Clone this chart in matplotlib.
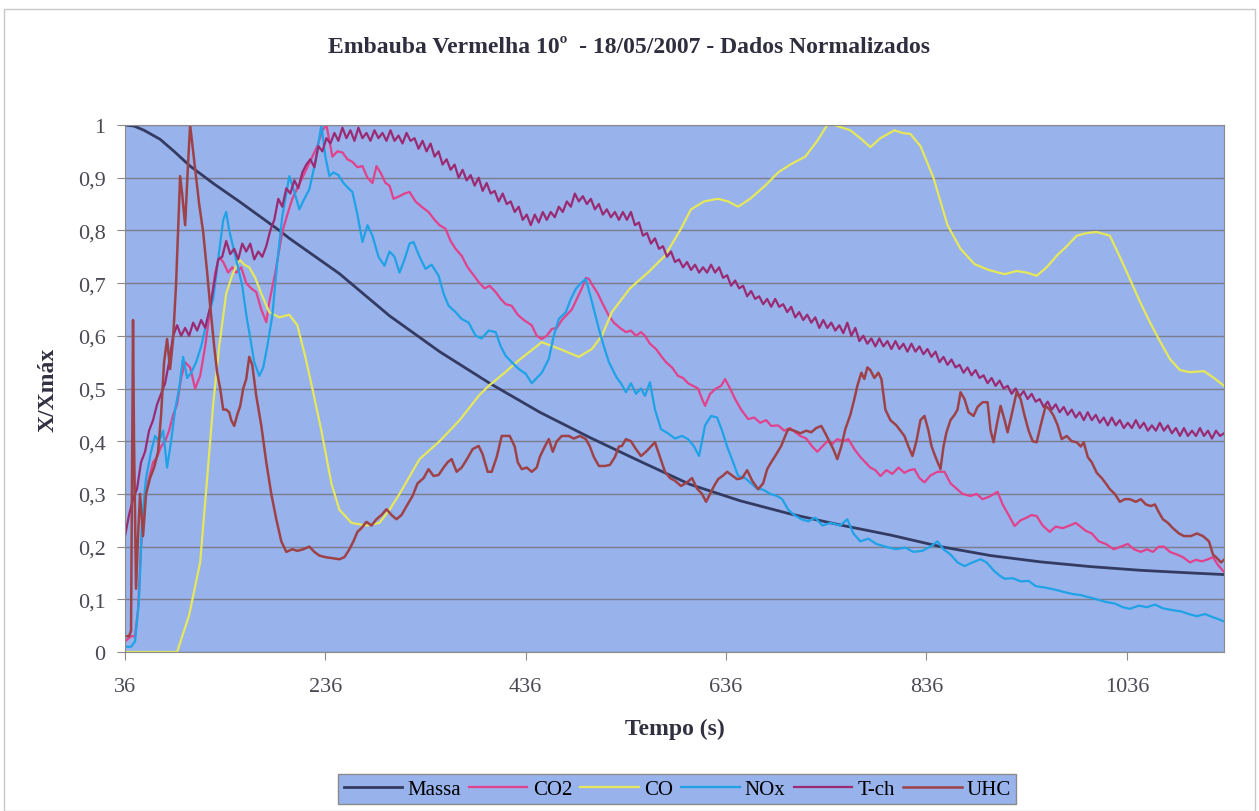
import matplotlib.pyplot as plt
from matplotlib.patches import Rectangle

# Series as (time s, normalised value) pairs
massa = [(36, 1.0), (45, 0.998), (55, 0.99), (71, 0.973), (85, 0.95), (101, 0.922), (125, 0.888),
         (150, 0.855), (190, 0.80), (200, 0.785), (250, 0.718), (300, 0.638), (350, 0.57),
         (400, 0.51), (450, 0.455), (500, 0.407), (550, 0.362), (600, 0.318), (650, 0.287),
         (700, 0.262), (750, 0.241), (800, 0.222), (850, 0.20), (900, 0.183), (950, 0.171),
         (1000, 0.162), (1050, 0.155), (1100, 0.15), (1133, 0.147)]

co2 = [(36, 0.02), (42, 0.03), (46, 0.03), (49, 0.08), (52, 0.20), (56, 0.30), (60, 0.33),
       (64, 0.36), (68, 0.37), (72, 0.39), (76, 0.40), (80, 0.42), (84, 0.45), (88, 0.47),
       (92, 0.52), (96, 0.55), (101, 0.54), (106, 0.50), (111, 0.524), (116, 0.58), (121, 0.65),
       (126, 0.72), (130, 0.75), (134, 0.74), (139, 0.72), (143, 0.73), (147, 0.72), (152, 0.73),
       (157, 0.70), (162, 0.69), (167, 0.683), (172, 0.65), (177, 0.626), (180, 0.664), (186, 0.72),
       (193, 0.797), (198, 0.83), (203, 0.86), (208, 0.88), (213, 0.90), (218, 0.92), (223, 0.94),
       (228, 0.96), (233, 0.99), (237, 1.0), (240, 0.97), (243, 0.94), (248, 0.95), (253, 0.948),
       (258, 0.935), (263, 0.93), (268, 0.92), (273, 0.922), (278, 0.90), (283, 0.89), (287, 0.922),
       (291, 0.91), (296, 0.89), (300, 0.885), (304, 0.86), (310, 0.865), (315, 0.87), (320, 0.873),
       (326, 0.855), (332, 0.845), (339, 0.835), (345, 0.82), (350, 0.81), (356, 0.803), (361, 0.78),
       (366, 0.765), (372, 0.752), (378, 0.73), (384, 0.715), (389, 0.702), (395, 0.69), (400, 0.695),
       (406, 0.683), (411, 0.67), (416, 0.66), (422, 0.657), (428, 0.64), (434, 0.63), (442, 0.62),
       (447, 0.60), (452, 0.594), (457, 0.60), (462, 0.613), (467, 0.615), (472, 0.63), (477, 0.64),
       (482, 0.65), (487, 0.67), (492, 0.69), (496, 0.71), (499, 0.708), (503, 0.695), (508, 0.68),
       (513, 0.66), (519, 0.638), (524, 0.625), (530, 0.615), (536, 0.607), (541, 0.61), (546, 0.60),
       (551, 0.607), (555, 0.60), (560, 0.585), (566, 0.575), (571, 0.562), (576, 0.55), (582, 0.54),
       (588, 0.524), (593, 0.52), (598, 0.51), (603, 0.505), (608, 0.50), (612, 0.48), (615, 0.467),
       (620, 0.49), (626, 0.50), (631, 0.505), (635, 0.518), (640, 0.50), (645, 0.48), (651, 0.46),
       (658, 0.442), (664, 0.445), (670, 0.435), (676, 0.44), (681, 0.429), (688, 0.43), (694, 0.42),
       (700, 0.425), (705, 0.417), (710, 0.41), (716, 0.405), (722, 0.39), (727, 0.38), (732, 0.39),
       (737, 0.40), (742, 0.395), (747, 0.404), (753, 0.40), (758, 0.404), (764, 0.385), (770, 0.37),
       (775, 0.36), (780, 0.35), (785, 0.345), (790, 0.334), (796, 0.345), (802, 0.338), (808, 0.35),
       (814, 0.34), (819, 0.345), (824, 0.347), (829, 0.33), (834, 0.322), (840, 0.335), (847, 0.342),
       (854, 0.342), (860, 0.32), (866, 0.31), (872, 0.30), (880, 0.296), (886, 0.30), (892, 0.29),
       (899, 0.295), (907, 0.304), (912, 0.28), (918, 0.26), (924, 0.239), (930, 0.25), (936, 0.255),
       (941, 0.26), (946, 0.258), (952, 0.24), (959, 0.228), (965, 0.238), (972, 0.235), (979, 0.24),
       (985, 0.245), (989, 0.239), (995, 0.23), (1001, 0.225), (1008, 0.21), (1015, 0.205),
       (1023, 0.195), (1030, 0.2), (1037, 0.205), (1043, 0.195), (1050, 0.19), (1056, 0.195),
       (1062, 0.19), (1068, 0.2), (1073, 0.20), (1079, 0.19), (1086, 0.185), (1092, 0.18),
       (1099, 0.17), (1105, 0.175), (1111, 0.172), (1117, 0.176), (1122, 0.18), (1127, 0.165),
       (1133, 0.152)]

co = [(36, 0.0), (60, 0.0), (88, 0.0), (100, 0.07), (111, 0.17), (118, 0.33), (124, 0.47),
      (130, 0.58), (137, 0.68), (143, 0.715), (150, 0.745), (155, 0.735), (160, 0.73), (166, 0.71),
      (172, 0.68), (180, 0.645), (190, 0.635), (200, 0.64), (208, 0.62), (216, 0.56), (223, 0.50),
      (232, 0.42), (242, 0.32), (250, 0.27), (262, 0.245), (277, 0.24), (290, 0.245), (300, 0.27),
      (310, 0.30), (330, 0.366), (350, 0.40), (370, 0.44), (389, 0.486), (399, 0.505), (415, 0.53),
      (430, 0.555), (452, 0.588), (470, 0.575), (489, 0.56), (502, 0.575), (512, 0.60), (522, 0.645),
      (540, 0.69), (558, 0.72), (575, 0.752), (590, 0.80), (601, 0.84), (614, 0.855), (628, 0.86),
      (638, 0.855), (648, 0.845), (660, 0.86), (675, 0.885), (688, 0.91), (700, 0.925), (715, 0.94),
      (727, 0.97), (737, 1.0), (744, 1.0), (752, 0.995), (760, 0.99), (770, 0.975), (780, 0.958),
      (790, 0.975), (804, 0.99), (812, 0.985), (820, 0.983), (830, 0.96), (843, 0.90), (857, 0.81),
      (870, 0.765), (884, 0.736), (898, 0.725), (914, 0.717), (926, 0.723), (936, 0.72),
      (946, 0.714), (956, 0.73), (966, 0.752), (976, 0.77), (986, 0.79), (996, 0.795), (1006, 0.797),
      (1019, 0.79), (1029, 0.75), (1039, 0.708), (1049, 0.665), (1059, 0.626), (1069, 0.59),
      (1079, 0.556), (1089, 0.535), (1099, 0.531), (1113, 0.533), (1123, 0.52), (1133, 0.505)]

nox = [(36, 0.01), (42, 0.01), (46, 0.02), (50, 0.10), (53, 0.25), (57, 0.33), (62, 0.38),
       (66, 0.41), (70, 0.40), (74, 0.42), (78, 0.35), (82, 0.40), (86, 0.46), (90, 0.50), (94, 0.56),
       (98, 0.52), (102, 0.53), (107, 0.55), (112, 0.58), (118, 0.63), (124, 0.67), (130, 0.76),
       (134, 0.82), (137, 0.835), (140, 0.80), (145, 0.76), (150, 0.72), (153, 0.695), (157, 0.64),
       (160, 0.607), (165, 0.55), (170, 0.524), (174, 0.54), (178, 0.58), (183, 0.638), (188, 0.74),
       (193, 0.827), (197, 0.87), (200, 0.903), (204, 0.88), (210, 0.84), (215, 0.86), (220, 0.878),
       (226, 0.93), (232, 1.0), (236, 0.94), (240, 0.903), (244, 0.91), (249, 0.905), (254, 0.89),
       (259, 0.88), (263, 0.873), (268, 0.83), (273, 0.778), (278, 0.81), (283, 0.79), (289, 0.75),
       (295, 0.733), (300, 0.76), (305, 0.75), (310, 0.72), (315, 0.745), (320, 0.775), (324, 0.778),
       (330, 0.75), (336, 0.727), (342, 0.735), (349, 0.714), (354, 0.68), (359, 0.657), (366, 0.645),
       (372, 0.632), (379, 0.625), (386, 0.60), (392, 0.595), (399, 0.61), (406, 0.607), (411, 0.58),
       (416, 0.562), (422, 0.55), (429, 0.537), (436, 0.528), (442, 0.51), (446, 0.518), (452, 0.53),
       (459, 0.556), (464, 0.60), (469, 0.632), (476, 0.645), (481, 0.67), (486, 0.689), (491, 0.70),
       (496, 0.708), (502, 0.665), (509, 0.613), (514, 0.58), (519, 0.55), (527, 0.52), (531, 0.51),
       (536, 0.493), (541, 0.51), (546, 0.49), (551, 0.50), (555, 0.486), (560, 0.512), (565, 0.46),
       (571, 0.423), (578, 0.415), (585, 0.405), (592, 0.41), (598, 0.404), (604, 0.39), (609, 0.372),
       (615, 0.43), (621, 0.448), (627, 0.445), (632, 0.42), (637, 0.39), (643, 0.36), (648, 0.334),
       (655, 0.33), (661, 0.32), (667, 0.31), (673, 0.308), (680, 0.30), (687, 0.296), (692, 0.29),
       (698, 0.27), (704, 0.26), (711, 0.252), (718, 0.248), (725, 0.255), (732, 0.24), (740, 0.245),
       (750, 0.24), (757, 0.252), (763, 0.225), (770, 0.21), (778, 0.215), (786, 0.205), (795, 0.20),
       (805, 0.195), (815, 0.198), (823, 0.19), (832, 0.192), (840, 0.2), (847, 0.21), (853, 0.195),
       (860, 0.185), (867, 0.17), (874, 0.163), (882, 0.17), (890, 0.176), (896, 0.17), (903, 0.155),
       (909, 0.145), (914, 0.139), (922, 0.14), (930, 0.134), (938, 0.135), (945, 0.125),
       (955, 0.122), (965, 0.118), (973, 0.114), (982, 0.11), (990, 0.108), (998, 0.104),
       (1006, 0.10), (1015, 0.095), (1024, 0.092), (1032, 0.085), (1039, 0.082), (1048, 0.088),
       (1056, 0.085), (1064, 0.09), (1072, 0.083), (1080, 0.08), (1090, 0.077), (1098, 0.072),
       (1106, 0.068), (1114, 0.072), (1122, 0.066), (1128, 0.062), (1133, 0.058)]

tch = [(36, 0.22), (40, 0.26), (44, 0.29), (48, 0.31), (52, 0.36), (56, 0.38), (60, 0.42),
       (64, 0.44), (68, 0.47), (72, 0.49), (76, 0.51), (80, 0.55), (84, 0.60), (88, 0.62), (92, 0.60),
       (96, 0.615), (100, 0.60), (104, 0.625), (108, 0.61), (112, 0.63), (116, 0.615), (121, 0.655),
       (125, 0.70), (129, 0.745), (133, 0.75), (137, 0.78), (141, 0.755), (145, 0.765), (149, 0.745),
       (153, 0.775), (157, 0.76), (161, 0.775), (165, 0.745), (169, 0.76), (173, 0.75), (177, 0.77),
       (181, 0.80), (185, 0.82), (189, 0.86), (193, 0.845), (197, 0.88), (201, 0.87), (205, 0.895),
       (209, 0.88), (213, 0.91), (217, 0.925), (221, 0.935), (225, 0.92), (229, 0.96), (233, 0.95),
       (237, 0.975), (241, 0.965), (245, 0.985), (249, 0.97), (253, 0.995), (257, 0.975), (261, 0.99),
       (265, 0.97), (269, 0.995), (273, 0.975), (277, 0.985), (281, 0.97), (285, 0.99), (289, 0.975),
       (293, 0.985), (297, 0.97), (301, 0.99), (305, 0.97), (309, 0.98), (313, 0.965), (317, 0.985),
       (321, 0.97), (325, 0.975), (329, 0.955), (333, 0.97), (337, 0.95), (341, 0.965), (345, 0.94),
       (349, 0.95), (353, 0.925), (357, 0.935), (361, 0.915), (365, 0.925), (369, 0.9), (373, 0.915),
       (377, 0.895), (381, 0.905), (385, 0.885), (389, 0.9), (393, 0.875), (397, 0.89), (401, 0.87),
       (405, 0.875), (409, 0.855), (413, 0.87), (417, 0.85), (421, 0.855), (425, 0.835), (429, 0.845),
       (433, 0.82), (437, 0.83), (441, 0.81), (445, 0.83), (449, 0.815), (453, 0.835), (457, 0.82),
       (461, 0.835), (465, 0.825), (469, 0.845), (473, 0.835), (477, 0.855), (481, 0.845), (485, 0.87),
       (489, 0.855), (493, 0.865), (497, 0.85), (501, 0.86), (505, 0.84), (509, 0.85), (513, 0.83),
       (517, 0.84), (521, 0.825), (525, 0.835), (529, 0.82), (533, 0.835), (537, 0.82), (541, 0.835),
       (545, 0.81), (549, 0.815), (553, 0.79), (557, 0.795), (561, 0.775), (565, 0.785), (569, 0.765),
       (573, 0.77), (577, 0.75), (581, 0.76), (585, 0.74), (589, 0.745), (593, 0.73), (597, 0.74),
       (601, 0.725), (605, 0.735), (609, 0.72), (613, 0.73), (617, 0.72), (621, 0.735), (625, 0.72),
       (629, 0.73), (633, 0.71), (637, 0.715), (641, 0.695), (645, 0.705), (649, 0.69), (653, 0.695),
       (657, 0.675), (661, 0.685), (665, 0.67), (669, 0.675), (673, 0.66), (677, 0.67), (681, 0.655),
       (685, 0.67), (689, 0.655), (693, 0.66), (697, 0.645), (701, 0.655), (705, 0.635), (709, 0.645),
       (713, 0.63), (717, 0.64), (721, 0.625), (725, 0.635), (729, 0.615), (733, 0.63), (737, 0.615),
       (741, 0.625), (745, 0.61), (749, 0.62), (753, 0.605), (757, 0.625), (761, 0.60), (765, 0.615),
       (769, 0.59), (773, 0.6), (777, 0.585), (781, 0.595), (785, 0.58), (789, 0.595), (793, 0.58),
       (797, 0.59), (801, 0.575), (805, 0.59), (809, 0.575), (813, 0.585), (817, 0.57), (821, 0.585),
       (825, 0.57), (829, 0.58), (833, 0.565), (837, 0.575), (841, 0.56), (845, 0.57), (849, 0.55),
       (853, 0.56), (857, 0.545), (861, 0.555), (865, 0.54), (869, 0.545), (873, 0.53), (877, 0.54),
       (881, 0.525), (885, 0.535), (889, 0.52), (893, 0.525), (897, 0.51), (901, 0.52), (905, 0.505),
       (909, 0.515), (913, 0.5), (917, 0.505), (921, 0.49), (925, 0.5), (929, 0.485), (933, 0.495),
       (937, 0.48), (941, 0.49), (945, 0.475), (949, 0.48), (953, 0.465), (957, 0.475), (961, 0.46),
       (965, 0.47), (969, 0.455), (973, 0.465), (977, 0.45), (981, 0.46), (985, 0.445), (989, 0.455),
       (993, 0.44), (997, 0.455), (1001, 0.44), (1005, 0.45), (1009, 0.435), (1013, 0.445),
       (1017, 0.43), (1021, 0.445), (1025, 0.43), (1029, 0.44), (1033, 0.425), (1037, 0.435),
       (1041, 0.425), (1045, 0.44), (1049, 0.425), (1053, 0.435), (1057, 0.42), (1061, 0.43),
       (1065, 0.42), (1069, 0.435), (1073, 0.42), (1077, 0.43), (1081, 0.415), (1085, 0.425),
       (1089, 0.41), (1093, 0.425), (1097, 0.41), (1101, 0.42), (1105, 0.41), (1109, 0.425),
       (1113, 0.41), (1117, 0.42), (1121, 0.405), (1125, 0.42), (1129, 0.41), (1133, 0.415)]

uhc = [(36, 0.03), (40, 0.03), (42, 0.04), (43, 0.35), (44, 0.63), (45, 0.40), (47, 0.12),
       (49, 0.22), (51, 0.30), (54, 0.22), (57, 0.30), (61, 0.33), (65, 0.35), (69, 0.38), (72, 0.45),
       (75, 0.55), (78, 0.594), (81, 0.537), (84, 0.594), (87, 0.70), (91, 0.903), (93, 0.87),
       (96, 0.81), (99, 0.93), (101, 1.0), (104, 0.95), (107, 0.90), (110, 0.85), (114, 0.797),
       (118, 0.72), (121, 0.657), (125, 0.58), (128, 0.53), (131, 0.50), (134, 0.46), (137, 0.46),
       (140, 0.455), (142, 0.44), (145, 0.429), (148, 0.45), (151, 0.467), (154, 0.50), (157, 0.518),
       (160, 0.56), (163, 0.545), (167, 0.486), (172, 0.43), (177, 0.36), (182, 0.30), (187, 0.252),
       (192, 0.21), (197, 0.19), (203, 0.195), (208, 0.192), (214, 0.195), (220, 0.20), (225, 0.19),
       (230, 0.183), (236, 0.18), (243, 0.178), (250, 0.176), (255, 0.18), (260, 0.195), (264, 0.21),
       (268, 0.228), (272, 0.235), (277, 0.247), (282, 0.24), (287, 0.252), (292, 0.26), (297, 0.271),
       (302, 0.26), (307, 0.252), (312, 0.26), (318, 0.28), (323, 0.296), (328, 0.32), (334, 0.33),
       (339, 0.347), (344, 0.334), (349, 0.336), (354, 0.35), (358, 0.36), (362, 0.366), (367, 0.342),
       (372, 0.35), (377, 0.365), (383, 0.385), (389, 0.391), (393, 0.375), (398, 0.342), (402, 0.342),
       (407, 0.37), (412, 0.41), (416, 0.41), (420, 0.41), (425, 0.39), (428, 0.36), (432, 0.347),
       (437, 0.35), (442, 0.342), (447, 0.35), (450, 0.37), (455, 0.39), (459, 0.404), (463, 0.38),
       (467, 0.40), (472, 0.41), (479, 0.41), (484, 0.405), (490, 0.41), (496, 0.404), (500, 0.39),
       (504, 0.37), (509, 0.353), (515, 0.353), (520, 0.355), (525, 0.37), (529, 0.39), (532, 0.391),
       (536, 0.404), (541, 0.40), (546, 0.385), (551, 0.372), (556, 0.38), (561, 0.39), (565, 0.398),
       (570, 0.37), (575, 0.342), (580, 0.33), (585, 0.325), (591, 0.315), (597, 0.322), (602, 0.33),
       (607, 0.31), (612, 0.30), (616, 0.285), (620, 0.30), (624, 0.315), (628, 0.328), (633, 0.335),
       (637, 0.342), (642, 0.335), (647, 0.328), (652, 0.33), (657, 0.345), (662, 0.325), (668, 0.309),
       (673, 0.32), (677, 0.347), (681, 0.36), (686, 0.375), (691, 0.391), (695, 0.41), (698, 0.423),
       (704, 0.42), (710, 0.415), (716, 0.42), (721, 0.417), (726, 0.425), (731, 0.429), (735, 0.415),
       (739, 0.40), (743, 0.385), (747, 0.366), (751, 0.39), (755, 0.423), (760, 0.45), (764, 0.48),
       (767, 0.505), (771, 0.53), (774, 0.518), (777, 0.54), (780, 0.535), (784, 0.52), (788, 0.53),
       (791, 0.518), (795, 0.46), (800, 0.44), (806, 0.43), (810, 0.42), (814, 0.41), (818, 0.39),
       (822, 0.372), (826, 0.40), (830, 0.44), (834, 0.448), (838, 0.42), (841, 0.391), (845, 0.37),
       (850, 0.347), (853, 0.39), (856, 0.417), (860, 0.44), (864, 0.45), (867, 0.46), (870, 0.493),
       (874, 0.48), (878, 0.455), (883, 0.448), (887, 0.465), (892, 0.474), (897, 0.474), (900, 0.42),
       (903, 0.398), (906, 0.43), (910, 0.467), (914, 0.44), (917, 0.417), (921, 0.45), (926, 0.493),
       (930, 0.48), (934, 0.448), (938, 0.42), (942, 0.40), (946, 0.398), (950, 0.43), (955, 0.467),
       (959, 0.46), (963, 0.448), (967, 0.43), (971, 0.404), (976, 0.41), (981, 0.40), (986, 0.398),
       (990, 0.39), (993, 0.398), (997, 0.37), (1001, 0.36), (1006, 0.34), (1011, 0.33), (1015, 0.32),
       (1019, 0.309), (1024, 0.30), (1029, 0.285), (1034, 0.29), (1039, 0.29), (1045, 0.285),
       (1050, 0.29), (1055, 0.28), (1060, 0.277), (1064, 0.28), (1068, 0.265), (1072, 0.252),
       (1077, 0.245), (1082, 0.235), (1088, 0.225), (1093, 0.22), (1100, 0.22), (1106, 0.225),
       (1112, 0.22), (1118, 0.21), (1122, 0.185), (1126, 0.178), (1130, 0.17), (1133, 0.175)]

series = [("Massa", massa, "#343b62", 2.0),
          ("CO2", co2, "#e2418c", 1.6),
          ("CO", co, "#e6e85a", 1.6),
          ("NOx", nox, "#1fa2e6", 1.6),
          ("T-ch", tch, "#9a2a72", 1.6),
          ("UHC", uhc, "#9e4248", 1.8)]

x_ticks = [36, 236, 436, 636, 836, 1036]
y_ticks = [0, 0.1, 0.2, 0.3, 0.4, 0.5, 0.6, 0.7, 0.8, 0.9, 1.0]
y_labels = ["0", "0,1", "0,2", "0,3", "0,4", "0,5", "0,6", "0,7", "0,8", "0,9", "1"]

plt.rcParams['font.family'] = ['Liberation Serif', 'DejaVu Serif']

fig = plt.figure(figsize=(12.59, 8.12), dpi=100)
ax = fig.add_axes([0.0993, 0.1958, 0.8729, 0.649])
ax.set_facecolor('#98b2ec')

for name, pts, color, lw in series:
    xs = [p[0] for p in pts]
    ys = [p[1] for p in pts]
    ax.plot(xs, ys, color=color, lw=lw, label=name)

ax.set_xlim(36, 1133)
ax.set_ylim(0, 1)
ax.set_xticks(x_ticks)
ax.set_yticks(y_ticks)
ax.set_yticklabels(y_labels)
ax.yaxis.grid(True, color='#7c7c8c', lw=1.0)
ax.set_axisbelow(True)
for s in ax.spines.values():
    s.set_color('#8a8a8a')
ax.tick_params(axis='both', direction='out', length=6, color='#8a8a8a',
               labelsize=16, labelcolor='#4a4a55')
ax.tick_params(axis='x', pad=12)
ax.tick_params(axis='y', pad=8)

ax.set_xlabel('Tempo (s)', fontsize=17, fontweight='bold', labelpad=16, color='#303040')
ax.set_ylabel('X/Xmáx', fontsize=17, fontweight='bold', labelpad=14, color='#303040')
fig.text(0.5, 0.942, 'Embauba Vermelha 10º  - 18/05/2007 - Dados Normalizados',
         ha='center', va='center', fontsize=17, fontweight='bold', color='#2e2e3e')

leg = ax.legend(loc='center', bbox_to_anchor=(0.538, 0.027), bbox_transform=fig.transFigure,
                ncol=6, fontsize=15, frameon=True, fancybox=False, handlelength=2.8,
                columnspacing=0.4, handletextpad=0.25, borderpad=0.25)
leg.get_frame().set_facecolor('#98b2ec')
leg.get_frame().set_edgecolor('#8a8a8a')
leg.get_frame().set_alpha(1)

fig.patches.append(Rectangle((0.003, 0.0), 0.994, 0.988, transform=fig.transFigure,
                             fill=False, edgecolor='#c8c8cc', lw=1.0))

plt.savefig('out.png', dpi=100)
